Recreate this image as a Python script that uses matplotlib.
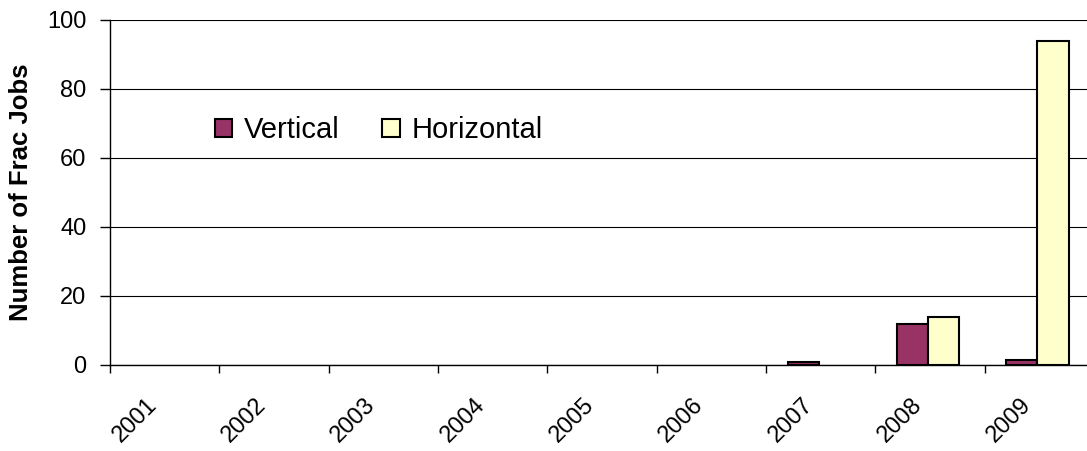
import numpy as np
import matplotlib.pyplot as plt
from matplotlib.transforms import ScaledTranslation

plt.rcParams['font.family'] = ['Liberation Sans', 'DejaVu Sans']

years = ['2001', '2002', '2003', '2004', '2005', '2006', '2007', '2008', '2009']
vertical = np.array([0, 0, 0, 0, 0, 0, 1, 12, 1.5])
horizontal = np.array([0, 0, 0, 0, 0, 0, 0, 14, 94])

fig = plt.figure(figsize=(10.87, 4.51), dpi=100)
# axes runs slightly past the right edge, like the original
ax = fig.add_axes([0.1012, 0.1907, 0.9053, 0.765])

x = np.arange(len(years))
w = 0.285
mv = vertical > 0
mh = horizontal > 0
ax.bar(x[mv] + 0.197, vertical[mv], width=w, align='edge', color='#993366',
       edgecolor='black', linewidth=1.5, label='Vertical', zorder=3)
ax.bar(x[mh] + 0.197 + w, horizontal[mh], width=w, align='edge', color='#FFFFCC',
       edgecolor='black', linewidth=1.5, label='Horizontal', zorder=3)

ax.set_xlim(0, len(years))
ax.set_ylim(0, 100)
ax.set_yticks(range(0, 101, 20))
ax.tick_params(axis='y', labelsize=17, length=7, width=1, direction='out', pad=10)
ax.yaxis.grid(True, color='black', linewidth=0.8)

ax.set_xticks(np.arange(len(years) + 1))
ax.set_xticklabels([])
ax.tick_params(axis='x', length=6, width=1, direction='out')
ax.set_xticks(x + 0.5, minor=True)
ax.set_xticklabels(years, minor=True, rotation=45, ha='right',
                   rotation_mode='anchor', fontsize=17)
ax.tick_params(axis='x', which='minor', length=0, pad=21)
for lab in ax.get_xticklabels(minor=True):
    lab.set_transform(lab.get_transform() + ScaledTranslation(-0.19, 0, fig.dpi_scale_trans))

for s in ['top', 'right']:
    ax.spines[s].set_visible(False)
ax.spines['left'].set_linewidth(1)
ax.spines['bottom'].set_linewidth(1)

ax.set_ylabel('Number of Frac Jobs', fontsize=18.5, fontweight='bold', labelpad=10)

ax.legend(loc='upper left', bbox_to_anchor=(0.08, 0.797), ncol=2, frameon=False,
          fontsize=21, handlelength=0.6, handleheight=0.6, columnspacing=1.45,
          handletextpad=0.4)

fig.savefig('out.png', dpi=100)
